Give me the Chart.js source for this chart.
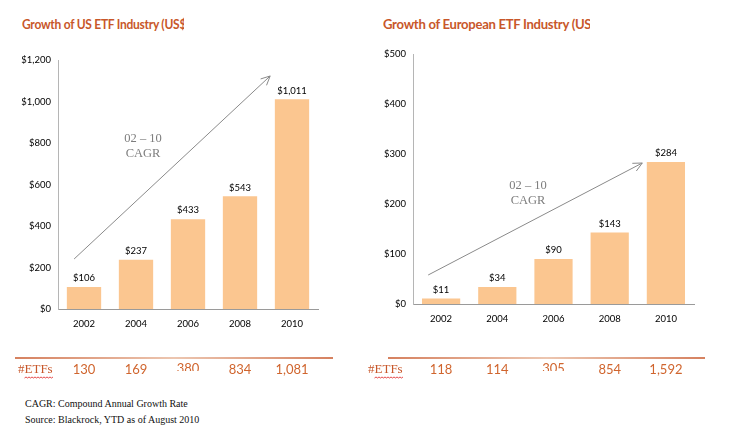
<!DOCTYPE html>
<html><head><meta charset="utf-8">
<script src="https://cdn.jsdelivr.net/npm/chart.js@4.4.0/dist/chart.umd.min.js"></script>
<style>
html,body{margin:0;padding:0;background:#fff;width:740px;height:439px;overflow:hidden;position:relative;}
.title{position:absolute;white-space:nowrap;overflow:hidden;height:20px;}
.title span{display:inline-block;font-family:Lato,sans-serif;font-weight:bold;font-size:13.5px;color:#C8572A;letter-spacing:-0.3px;transform-origin:0 50%;}
.note{position:absolute;left:25px;font-family:"Liberation Serif",serif;font-size:10px;color:#111;white-space:nowrap;}
canvas{position:absolute;}
</style></head><body>
<div class="title" style="left:22px;top:15px;width:162px;"><span style="transform:scaleX(0.89)">Growth of US ETF Industry (US$ bn)</span></div>
<div class="title" style="left:383px;top:15px;width:207px;"><span style="transform:scaleX(0.97)">Growth of European ETF Industry (US$ bn)</span></div>
<div style="position:absolute;left:0;top:0;width:370px;height:390px;"><canvas id="c1"></canvas></div>
<div style="position:absolute;left:360px;top:0;width:380px;height:390px;"><canvas id="c2"></canvas></div>
<div class="note" style="top:398px;">CAGR: Compound Annual Growth Rate</div>
<div class="note" style="top:414px;">Source: Blackrock, YTD as of August 2010</div>
<script>
const categories = ['2002','2004','2006','2008','2010'];
const usValues = [106, 237, 433, 543, 1011];
const euValues = [11, 34, 90, 143, 284];
const usEtfs = ['130','169','380','834','1,081'];
const euEtfs = ['118','114','305','854','1,592'];
const usMax = 1200, usStep = 200;
const euMax = 500, euStep = 100;
// arrow endpoints in data coords [categoryIndex, value]
const usArrow = [[-0.19, 241], [3.58, 1123]];
const euArrow = [[-0.23, 58], [3.58, 282]];
const clippedIndex = 2;

const barColor = '#FBC690';
const orange = '#C8572A';
const numOrange = '#D0652E';

function money(v){ return '$' + v.toLocaleString('en-US'); }

function makePlugin(cfg){
  return {
    id: 'extras',
    afterDatasetsDraw(chart){
      const ctx = chart.ctx;
      const xs = chart.scales.x, ys = chart.scales.y;
      const meta = chart.getDatasetMeta(0);
      // data labels
      ctx.save();
      ctx.fillStyle = '#000';
      ctx.font = '9.5px Lato, sans-serif';
      ctx.textAlign = 'center';
      ctx.textBaseline = 'bottom';
      meta.data.forEach((bar, i) => {
        ctx.fillText(money(cfg.values[i]), bar.x, bar.y - 4);
      });
      ctx.restore();
      // arrow
      const p0 = {x: xs.getPixelForValue(cfg.arrow[0][0]), y: ys.getPixelForValue(cfg.arrow[0][1])};
      const p1 = {x: xs.getPixelForValue(cfg.arrow[1][0]), y: ys.getPixelForValue(cfg.arrow[1][1])};
      ctx.save();
      ctx.strokeStyle = '#8a8a8a';
      ctx.lineWidth = 1;
      ctx.beginPath(); ctx.moveTo(p0.x, p0.y); ctx.lineTo(p1.x, p1.y); ctx.stroke();
      const ang = Math.atan2(p1.y - p0.y, p1.x - p0.x);
      const L = 10, w = 0.45;
      ctx.beginPath();
      ctx.moveTo(p1.x - L*Math.cos(ang - w), p1.y - L*Math.sin(ang - w));
      ctx.lineTo(p1.x, p1.y);
      ctx.lineTo(p1.x - L*Math.cos(ang + w), p1.y - L*Math.sin(ang + w));
      ctx.stroke();
      ctx.restore();
      // CAGR label
      ctx.save();
      ctx.fillStyle = '#7d7d7d';
      ctx.font = '12.5px "Liberation Serif", serif';
      ctx.textAlign = 'center';
      ctx.textBaseline = 'middle';
      ctx.fillText('02 \u2013 10', cfg.cagr.x, cfg.cagr.y);
      ctx.fillText('CAGR', cfg.cagr.x, cfg.cagr.y + 15);
      ctx.restore();
      // bottom line
      ctx.save();
      const g = ctx.createLinearGradient(cfg.line[0], 0, cfg.line[1], 0);
      g.addColorStop(0, '#C8572A'); g.addColorStop(0.5, '#E6B396'); g.addColorStop(1, '#C8572A');
      ctx.strokeStyle = g; ctx.lineWidth = 1.3;
      ctx.beginPath(); ctx.moveTo(cfg.line[0], cfg.lineY); ctx.lineTo(cfg.line[1], cfg.lineY); ctx.stroke();
      ctx.restore();
      // #ETFs label
      ctx.save();
      ctx.fillStyle = orange;
      ctx.font = '13px "Liberation Serif", serif';
      ctx.textBaseline = 'middle';
      ctx.textAlign = 'left';
      ctx.fillText('#ETFs', cfg.etfX, cfg.rowY);
      const tw = ctx.measureText('#ETFs').width;
      const hashW = ctx.measureText('#').width;
      // spellcheck underline
      ctx.strokeStyle = '#e02020'; ctx.lineWidth = 0.8;
      ctx.beginPath();
      let x = cfg.etfX + hashW, y0 = cfg.rowY + 8;
      ctx.moveTo(x, y0);
      let up = true;
      while (x < cfg.etfX + tw) { x += 1.5; ctx.lineTo(x, y0 + (up ? -1 : 0)); up = !up; }
      ctx.stroke();
      ctx.restore();
      // ETF counts
      ctx.save();
      ctx.fillStyle = numOrange;
      ctx.font = '13px Lato, sans-serif';
      ctx.textAlign = 'center';
      ctx.textBaseline = 'middle';
      cfg.etfs.forEach((t, i) => {
        const px = xs.getPixelForValue(i);
        if (i === clippedIndex) {
          ctx.save();
          ctx.beginPath(); ctx.rect(px - 20, cfg.rowY - 10, 40, 11); ctx.clip();
          ctx.fillText(t, px, cfg.rowY - 1);
          ctx.restore();
        } else {
          ctx.fillText(t, px, cfg.rowY);
        }
      });
      ctx.restore();
    }
  };
}

function makeChart(id, values, max, step, yWidth, padding, cfg){
  return new Chart(document.getElementById(id), {
    type: 'bar',
    data: { labels: categories, datasets: [{ data: values, backgroundColor: barColor, categoryPercentage: 1, barPercentage: cfg.barPct }] },
    options: {
      responsive: true, maintainAspectRatio: false, animation: false,
      layout: { padding: padding },
      plugins: { legend: {display:false}, tooltip: {enabled:false}, title:{display:false} },
      scales: {
        x: {
          grid: { display: false, drawTicks: false },
          border: { display: true, color: '#9a9a9a', width: 1 },
          ticks: { color: '#000', font: { family: 'Lato', size: 9.5 }, padding: 9, maxRotation: 0 },
          afterFit(s){ s.height = 26; }
        },
        y: {
          min: 0, max: max,
          grid: { display: false, drawTicks: false },
          border: { display: true, color: '#b5b5b5', width: 1 },
          ticks: { stepSize: step, color: '#000', font: { family: 'Lato', size: 9.5 }, padding: 7, callback: v => money(v) },
          afterFit(s){ s.width = yWidth; }
        }
      }
    },
    plugins: [makePlugin(cfg)]
  });
}

makeChart('c1', usValues, usMax, usStep, 58, {left:0, right:52, top:60, bottom:55}, {
  values: usValues, etfs: usEtfs, arrow: usArrow, barPct: 0.66,
  cagr: {x:143, y:139}, line:[15,333], lineY:358, rowY:370, etfX:18
});
makeChart('c2', euValues, euMax, euStep, 53, {left:0, right:46, top:54, bottom:60}, {
  values: euValues, etfs: euEtfs, arrow: euArrow, barPct: 0.68,
  cagr: {x:168, y:186}, line:[28,345], lineY:358, rowY:370, etfX:8
});
</script>
</body></html>
